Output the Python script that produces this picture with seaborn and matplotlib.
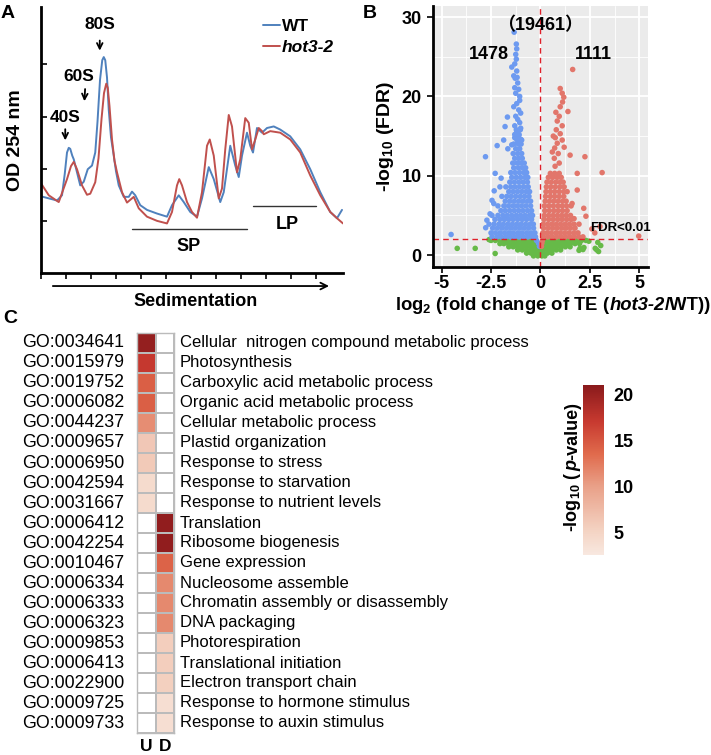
import numpy as np
import pandas as pd
import matplotlib
matplotlib.use("Agg")
import matplotlib.pyplot as plt
import seaborn as sns
from matplotlib.colors import LinearSegmentedColormap, ListedColormap
from matplotlib.lines import Line2D

# ---------------- data: panel A (polysome profile) ----------------
wt_x = [0.00, 0.64, 0.84, 0.95, 1.04, 1.11, 1.17, 1.25, 1.31, 1.57, 1.71, 1.87, 2.04, 2.17, 2.26, 2.36,
        2.45, 2.51, 2.57, 2.64, 2.71, 2.80, 2.91, 3.00, 3.11, 3.31, 3.51, 3.64, 3.77, 3.97, 4.24, 4.64,
        5.04, 5.24, 5.51, 5.71, 5.97, 6.24, 6.44, 6.71, 6.91, 7.17, 7.31, 7.57, 7.77, 7.91, 8.04, 8.24,
        8.37, 8.48, 8.64, 8.84, 9.04, 9.31, 9.57, 9.97, 10.37, 10.77, 11.17, 11.57, 11.84, 12.04]
wt_y = [1.47, 1.39, 1.49, 1.90, 2.31, 2.40, 2.38, 2.25, 2.18, 1.68, 1.75, 1.99, 2.06, 2.31, 2.90, 3.70,
        4.08, 4.14, 4.08, 3.75, 3.13, 2.60, 2.25, 1.95, 1.68, 1.46, 1.46, 1.56, 1.49, 1.30, 1.21, 1.14,
        1.08, 1.30, 1.49, 1.36, 1.17, 1.08, 1.43, 2.03, 1.80, 1.36, 1.55, 2.44, 2.06, 1.84, 2.25, 2.69,
        2.44, 2.31, 2.78, 2.69, 2.78, 2.81, 2.75, 2.62, 2.37, 1.99, 1.55, 1.17, 1.05, 1.21]
mut_x = [0.00, 0.31, 0.71, 1.04, 1.20, 1.31, 1.44, 1.64, 1.84, 1.97, 2.17, 2.30, 2.42, 2.52, 2.61, 2.67,
         2.74, 2.84, 2.94, 3.04, 3.24, 3.44, 3.71, 3.91, 4.24, 4.64, 5.04, 5.24, 5.44, 5.53, 5.64, 5.84,
         6.04, 6.24, 6.44, 6.64, 6.75, 6.91, 7.11, 7.24, 7.37, 7.51, 7.64, 7.84, 7.97, 8.17, 8.31, 8.44,
         8.57, 8.71, 8.84, 8.91, 9.17, 9.57, 9.97, 10.37, 10.77, 11.17, 11.57, 11.84, 12.08]
mut_y = [1.72, 1.49, 1.36, 1.80, 2.05, 2.13, 1.99, 1.68, 1.50, 1.52, 1.74, 2.20, 2.95, 3.45, 3.63, 3.55,
         3.20, 2.56, 2.15, 1.93, 1.55, 1.35, 1.46, 1.24, 1.08, 1.00, 0.95, 1.17, 1.68, 1.80, 1.68, 1.36,
         1.17, 1.06, 1.55, 2.44, 2.56, 2.25, 1.43, 1.62, 2.37, 3.03, 2.81, 1.93, 2.18, 2.97, 2.88, 2.37,
         2.56, 2.78, 2.72, 2.66, 2.72, 2.69, 2.56, 2.31, 1.87, 1.49, 1.17, 1.05, 0.95]
profile_names = ["WT", "hot3-2"]

# ---------------- data: panel B (volcano) ----------------
blue_rows = [
    (2.3, [-2.45, -2.2, -1.98, -1.75, -1.52, -1.3, -1.08, -0.86, -0.64, -0.42, -0.25]),
    (2.8, [-2.5, -2.28, -2.05, -1.82, -1.6, -1.38, -1.15, -0.93, -0.7, -0.48, -0.28]),
    (3.4, [-2.42, -2.18, -1.95, -1.72, -1.5, -1.27, -1.05, -0.82, -0.6, -0.35]),
    (3.9, [-2.6, -2.35, -2.1, -1.88, -1.65, -1.42, -1.2, -0.98, -0.75, -0.52, -0.36]),
    (4.5, [-2.3, -2.05, -1.82, -1.6, -1.38, -1.15, -0.92, -0.7, -0.45]),
    (5.0, [-2.45, -2.15, -1.9, -1.68, -1.45, -1.22, -1.0, -0.78, -0.55, -0.4]),
    (5.6, [-2.0, -1.78, -1.55, -1.32, -1.1, -0.88, -0.65, -0.45]),
    (6.2, [-2.15, -1.85, -1.62, -1.4, -1.18, -0.96, -0.74, -0.5]),
    (6.8, [-1.78, -1.55, -1.32, -1.1, -0.88, -0.66, -0.5]),
    (7.4, [-1.95, -1.7, -1.48, -1.25, -1.02, -0.8, -0.58]),
    (8.0, [-1.6, -1.38, -1.16, -0.94, -0.72, -0.55]),
    (8.6, [-1.75, -1.5, -1.28, -1.06, -0.84, -0.62]),
    (9.2, [-1.55, -1.32, -1.1, -0.88, -0.66]),
    (9.8, [-1.45, -1.22, -1.0, -0.78, -0.64]),
    (10.4, [-1.5, -1.28, -1.06, -0.84, -0.7]),
    (11.0, [-1.35, -1.12, -0.92, -0.75]),
    (11.6, [-1.4, -1.18, -0.98, -0.82]),
    (12.2, [-1.3, -1.1, -0.92]),
    (12.8, [-1.38, -1.15, -0.95]),
    (13.4, [-1.25, -1.05]),
    (14.0, [-1.35, -1.12, -0.98]),
    (14.6, [-1.2, -1.0]),
    (15.2, [-1.3, -1.08]),
    (15.8, [-1.22, -1.02]),
]
blue_extra = [(-1.33, 28.1), (-1.22, 26.6), (-1.2, 26.0), (-1.25, 25.3), (-1.22, 24.7), (-1.3, 24.1),
              (-1.45, 23.7), (-1.2, 23.2), (-1.35, 22.6), (-1.28, 22.3), (-1.18, 22.4), (-1.15, 21.7),
              (-1.3, 21.1), (-1.1, 20.9), (-1.25, 20.4), (-1.05, 20.0), (-1.05, 19.5), (-1.2, 19.1),
              (-1.35, 18.7), (-1.1, 18.3), (-1.0, 17.9), (-1.25, 17.5), (-1.67, 17.4), (-1.15, 17.1),
              (-1.05, 16.7), (-1.3, 16.3), (-1.79, 16.2), (-1.0, 16.0), (-1.2, 15.5), (-1.1, 15.1),
              (-1.3, 14.8), (-0.95, 14.5), (-1.15, 14.2), (-1.45, 13.9), (-2.19, 13.8), (-1.86, 14.5),
              (-1.65, 13.4), (-2.78, 12.4), (-2.29, 10.3), (-1.99, 9.7), (-2.34, 8.1), (-2.05, 8.6),
              (-2.36, 6.5), (-2.45, 6.9), (-2.55, 5.2), (-2.71, 4.4), (-2.77, 3.45), (-4.52, 2.6),
              (-0.2, 1.85), (-0.1, 1.5), (-0.05, 1.1)]
red_rows = [
    (2.3, [0.15, 0.37, 0.6, 0.82, 1.05, 1.27, 1.5, 1.72, 1.95, 2.15]),
    (2.8, [0.12, 0.33, 0.55, 0.78, 1.0, 1.22, 1.45, 1.68, 1.9]),
    (3.4, [0.16, 0.4, 0.62, 0.85, 1.08, 1.3, 1.52, 1.75]),
    (3.9, [0.14, 0.36, 0.58, 0.8, 1.02, 1.25, 1.47, 1.7, 1.95]),
    (4.5, [0.18, 0.42, 0.65, 0.88, 1.1, 1.33, 1.56]),
    (5.0, [0.2, 0.42, 0.64, 0.86, 1.08, 1.3, 1.52]),
    (5.6, [0.22, 0.45, 0.68, 0.9, 1.12, 1.35]),
    (6.2, [0.2, 0.42, 0.65, 0.88, 1.1, 1.32, 1.55]),
    (6.8, [0.24, 0.46, 0.68, 0.9, 1.12, 1.3]),
    (7.4, [0.26, 0.5, 0.72, 0.95, 1.18]),
    (8.0, [0.28, 0.5, 0.72, 0.95, 1.18, 1.35]),
    (8.6, [0.3, 0.52, 0.75, 0.98, 1.2]),
    (9.2, [0.33, 0.55, 0.78, 1.0, 1.15]),
    (9.8, [0.4, 0.62, 0.85, 1.05]),
    (10.3, [0.5, 0.72, 0.95]),
]
red_extra = [(0.74, 11.2), (0.95, 11.6), (0.7, 12.2), (0.9, 12.8), (0.6, 13.0), (1.2, 13.6), (0.72, 13.5),
             (0.85, 14.1), (1.1, 14.5), (0.75, 14.8), (0.65, 15.0), (1.0, 15.3), (0.8, 15.8), (1.1, 16.3),
             (0.85, 16.9), (0.95, 17.5), (0.78, 18.0), (1.39, 18.1), (1.0, 18.7), (1.12, 19.3),
             (1.18, 19.9), (1.1, 20.4), (1.0, 21.0), (1.63, 23.4), (1.5, 12.6), (2.25, 12.4),
             (3.12, 10.4), (1.86, 10.3), (1.86, 8.2), (2.19, 5.9), (2.3, 4.9), (1.6, 6.5), (1.7, 4.6),
             (3.01, 3.6), (2.6, 3.3), (2.75, 2.8), (4.97, 2.4), (0.1, 1.85), (0.07, 1.5), (0.05, 1.1)]
green_rows = [
    (1.85, [-2.5, -2.28, -2.05, -1.82, -1.6, -1.38, -1.15, -0.92, -0.7, -0.48, -0.32,
            0.3, 0.5, 0.72, 0.95, 1.18, 1.4, 1.62, 1.85, 2.08, 2.3]),
    (1.45, [-2.05, -1.85, -1.62, -1.4, -1.18, -0.96, -0.74, -0.52, -0.3,
            0.22, 0.42, 0.64, 0.86, 1.08, 1.3, 1.52, 1.75, 1.98]),
    (1.05, [-1.6, -1.38, -1.16, -0.94, -0.72, -0.5, -0.28, -0.15,
            0.18, 0.38, 0.6, 0.82, 1.04, 1.26, 1.5]),
    (0.65, [-1.15, -0.92, -0.7, -0.48, -0.26, -0.05, 0.15, 0.37, 0.58, 0.8, 1.02]),
    (0.25, [-0.7, -0.48, -0.26, -0.05, 0.15, 0.36, 0.58]),
    (-0.1, [-0.35, -0.13, 0.07, 0.22]),
]
green_extra = [(-4.21, 0.85), (-3.3, 0.85), (-2.29, 0.2), (2.9, 1.6), (3.05, 1.2), (2.77, 0.85),
               (2.94, 0.45), (2.85, 0.65), (2.0, 0.85), (2.15, 0.7), (1.95, 0.6), (2.2, 0.95),
               (2.45, 1.75), (-2.6, 1.95)]
volcano_colors = {"green": "#66BA48", "blue": "#6D9AF0", "red": "#E2766B"}
xtick_vals = [-5, -2.5, 0, 2.5, 5]
xtick_labels = ["-5", "-2.5", "0", "2.5", "5"]
ytick_vals = [0, 10, 20, 30]

# ---------------- data: panel C (GO heatmap) ----------------
go_ids = ["GO:0034641", "GO:0015979", "GO:0019752", "GO:0006082", "GO:0044237", "GO:0009657",
          "GO:0006950", "GO:0042594", "GO:0031667", "GO:0006412", "GO:0042254", "GO:0010467",
          "GO:0006334", "GO:0006333", "GO:0006323", "GO:0009853", "GO:0006413", "GO:0022900",
          "GO:0009725", "GO:0009733"]
go_terms = ["Cellular  nitrogen compound metabolic process", "Photosynthesis",
            "Carboxylic acid metabolic process", "Organic acid metabolic process",
            "Cellular metabolic process", "Plastid organization", "Response to stress",
            "Response to starvation", "Response to nutrient levels", "Translation",
            "Ribosome biogenesis", "Gene expression", "Nucleosome assemble",
            "Chromatin assembly or disassembly", "DNA packaging", "Photorespiration",
            "Translational initiation", "Electron transport chain", "Response to hormone stimulus",
            "Response to auxin stimulus"]
nan = np.nan
up_vals = [20.3, 17.2, 14.3, 14.3, 11.2, 6.2, 6.0, 4.2, 4.2] + [nan] * 11
down_vals = [nan] * 9 + [20.5, 20.5, 14.0, 11.5, 11.5, 11.5, 5.6, 5.6, 5.4, 3.8, 3.8]
hm_cols = ["U", "D"]
cbar_ticks = [5, 10, 15, 20]

# ---------------- style ----------------
sns.set_theme(style="white", rc={"text.color": "black", "axes.labelcolor": "black",
                                 "xtick.color": "black", "ytick.color": "black"})
plt.rcParams["font.family"] = ["Liberation Sans", "Noto Sans CJK SC", "DejaVu Sans"]
plt.rcParams["mathtext.fontset"] = "custom"
plt.rcParams["mathtext.rm"] = "Liberation Sans"
plt.rcParams["mathtext.bf"] = "Liberation Sans:bold"
plt.rcParams["mathtext.it"] = "Liberation Sans:italic"

W, H = 711, 755
fig = plt.figure(figsize=(W / 100, H / 100), dpi=100)
fig.patch.set_facecolor("white")


def fax(l, t, r, b):
    return fig.add_axes([l / W, 1 - b / H, (r - l) / W, (b - t) / H])


def rich(pieces, x_px, y_px, rotation=0, size=12, **common):
    """Place text pieces with different styles along one baseline, centred."""
    r = fig.canvas.get_renderer()
    arts = [fig.text(0, 0, t, fontsize=size, rotation=rotation, rotation_mode="anchor",
                     ha="left", va="baseline", **{**common, **st}) for t, st in pieces]
    lens = []
    for a in arts:
        e = a.get_window_extent(renderer=r)
        lens.append(e.height if rotation == 90 else e.width)
    pos = -sum(lens) / 2
    for a, L in zip(arts, lens):
        if rotation == 90:
            a.set_position((x_px / W, (H - y_px + pos) / H))
        else:
            a.set_position(((x_px + pos) / W, (H - y_px) / H))
        pos += L


axA = fax(41, 7, 343, 273)
axB = fax(432.7, 6, 648, 267)
axC = fax(137, 333, 174, 733)
cax = fax(583, 385, 604, 555)

# ---------------- panel A ----------------
c_wt, c_mut = "#4F81BD", "#C0504D"
dfA = pd.concat([pd.DataFrame({"x": wt_x, "y": wt_y, "line": profile_names[0]}),
                 pd.DataFrame({"x": mut_x, "y": mut_y, "line": profile_names[1]})])
sns.lineplot(data=dfA, x="x", y="y", hue="line", palette={profile_names[0]: c_wt, profile_names[1]: c_mut},
             sort=False, estimator=None, lw=1.4, ax=axA, legend=False)
axA.set_xlim(0, 12.08)
axA.set_ylim(0, 5.1)
axA.set_xticks(np.arange(0, 12))
axA.set_yticks([1, 2, 3, 4])
axA.set_xticklabels([])
axA.set_yticklabels([])
axA.set_xlabel("")
axA.set_ylabel("")
axA.tick_params(axis="x", direction="out", length=4, width=1.2, bottom=True)
axA.tick_params(axis="y", direction="in", length=4, width=1.2, left=True)
for s in ["top", "right"]:
    axA.spines[s].set_visible(False)
for s in ["left", "bottom"]:
    axA.spines[s].set_color("black")
    axA.spines[s].set_linewidth(2)

lab_kw = dict(fontsize=12.5, fontweight="bold", ha="center", va="center")
axA.text(2.37, 4.76, "80S", **lab_kw)
axA.text(1.53, 3.77, "60S", **lab_kw)
axA.text(0.97, 2.99, "40S", **lab_kw)
arr = dict(arrowstyle="->", lw=1.3, color="black", mutation_scale=10)
axA.annotate("", xy=(2.35, 4.21), xytext=(2.35, 4.51), arrowprops=arr)
axA.annotate("", xy=(1.73, 3.24), xytext=(1.77, 3.58), arrowprops=arr)
axA.annotate("", xy=(0.97, 2.49), xytext=(0.97, 2.81), arrowprops=arr)
axA.plot([3.65, 8.25], [0.84, 0.84], color="#333333", lw=1)
axA.plot([8.49, 11.01], [1.29, 1.29], color="#333333", lw=1)
axA.text(5.9, 0.5, "SP", fontsize=13, fontweight="bold", ha="center", va="center")
axA.text(9.85, 0.93, "LP", fontsize=13, fontweight="bold", ha="center", va="center")

h = [Line2D([], [], color=c_wt, lw=1.4), Line2D([], [], color=c_mut, lw=1.4)]
leg = axA.legend(h, profile_names, loc="upper left", bbox_to_anchor=(0.735, 0.955), frameon=False,
                 handlelength=1.0, handletextpad=0.1, labelspacing=0.35, borderpad=0, borderaxespad=0,
                 prop={"weight": "bold", "size": 12.5})
leg.get_texts()[1].set_fontstyle("italic")

axA.annotate("", xy=(0.963, -0.049), xytext=(0.03, -0.049), xycoords="axes fraction",
             textcoords="axes fraction", arrowprops=dict(arrowstyle="->", lw=1.3, color="black"),
             annotation_clip=False)
axA.text(0.513, -0.109, "Sedimentation", transform=axA.transAxes, fontsize=13, fontweight="bold",
         ha="center", va="center")
axA.text(-0.085, 0.5, "OD 254 nm", transform=axA.transAxes, fontsize=14, fontweight="bold",
         ha="center", va="center", rotation=90)

# ---------------- panel B ----------------
recs = []
for grp, rows, extra in [("green", green_rows, green_extra), ("blue", blue_rows, blue_extra),
                         ("red", red_rows, red_extra)]:
    for yv, xs in rows:
        for xv in xs:
            recs.append((xv, yv, grp))
    for xv, yv in extra:
        recs.append((xv, yv, grp))
dfB = pd.DataFrame(recs, columns=["x", "y", "grp"])
axB.set_facecolor("#EBEBEB")
axB.set_axisbelow(True)
sns.scatterplot(data=dfB, x="x", y="y", hue="grp", palette=volcano_colors, s=16, linewidth=0,
                legend=False, ax=axB)
axB.set_xlim(-5.45, 5.44)
axB.set_ylim(-1.5, 31.4)
axB.set_xticks(xtick_vals)
axB.set_xticklabels(xtick_labels)
axB.set_xticks([-3.75, -1.25, 1.25, 3.75], minor=True)
axB.set_yticks(ytick_vals)
axB.set_yticklabels([str(v) for v in ytick_vals])
axB.set_yticks([5, 15, 25], minor=True)
axB.grid(True, which="major", color="white", lw=1.3)
axB.grid(True, which="minor", color="white", lw=0.6)
axB.tick_params(which="minor", length=0)
axB.tick_params(which="major", direction="out", length=4, width=1.2, labelsize=13, bottom=True, left=True)
axB.tick_params(axis="x", which="major", pad=2)
axB.tick_params(axis="y", which="major", pad=4)
for t in axB.get_xticklabels() + axB.get_yticklabels():
    t.set_fontweight("bold")
for s in ["top", "right"]:
    axB.spines[s].set_visible(False)
for s in ["left", "bottom"]:
    axB.spines[s].set_color("black")
    axB.spines[s].set_linewidth(2)
axB.axvline(0, color="#E0202A", ls=(0, (4, 3)), lw=1)
axB.axhline(2, color="#E0202A", ls=(0, (4, 3)), lw=1)
axB.set_xlabel("")
axB.set_ylabel("-log$_{\\mathbf{10}}$ (FDR)", fontsize=14, fontweight="bold")
axB.yaxis.set_label_coords(-0.17, 0.5)
axB.text(0, 29.0, "（19461）", fontsize=13, fontweight="bold", ha="center", va="center")
axB.text(-2.6, 25.3, "1478", fontsize=13, fontweight="bold", ha="center", va="center")
axB.text(2.67, 25.3, "1111", fontsize=13, fontweight="bold", ha="center", va="center")
axB.text(2.51, 3.4, "FDR<0.01", fontsize=9.5, fontweight="bold", ha="left", va="center", clip_on=False)

# ---------------- panel C ----------------
hm = pd.DataFrame({hm_cols[0]: up_vals, hm_cols[1]: down_vals}, index=go_ids)
cmap = LinearSegmentedColormap.from_list(
    "gomap", [(0.0, "#F8E8E0"), (0.135, "#F4D4C4"), (0.405, "#E9A088"), (0.595, "#E06A4C"),
              (0.784, "#C83A30"), (1.0, "#8A1A1C")])
sns.heatmap(np.zeros(hm.shape), ax=axC, cmap=ListedColormap(["white"]), cbar=False, linewidths=1.2,
            linecolor="#BBBBBB", xticklabels=hm_cols, yticklabels=go_ids)
sns.heatmap(hm, ax=axC, mask=hm.isna(), cmap=cmap, vmin=2.5, vmax=21, linewidths=1.2, linecolor="#BBBBBB",
            cbar_ax=cax, cbar_kws={"ticks": cbar_ticks}, xticklabels=hm_cols, yticklabels=go_ids)
axC.set_xlabel("")
axC.set_ylabel("")
axC.tick_params(axis="y", length=0, pad=9, labelsize=12.8, rotation=0)
axC.tick_params(axis="x", length=0, pad=4, labelsize=12.5, rotation=0)
for t in axC.get_xticklabels():
    t.set_fontweight("bold")
for s in axC.spines.values():
    s.set_visible(True)
    s.set_color("#BBBBBB")
    s.set_linewidth(1)
for i, term in enumerate(go_terms):
    axC.text(2.32, i + 0.5, term, fontsize=12, ha="left", va="center", clip_on=False)

cbar = axC.collections[-1].colorbar
cbar.outline.set_visible(False)
cax.tick_params(length=0, labelsize=13, pad=7)
for t in cax.get_yticklabels():
    t.set_fontweight("bold")

# ---------------- multi-style labels & panel letters ----------------
rich([("log$_\\mathbf{2}$ (fold change of TE (", {}), ("hot3-2", {"fontstyle": "italic"}), ("/WT))", {})],
     553, 310, size=13.3, fontweight="bold")
rich([("-log$_\\mathbf{10}$ (", {}), ("p", {"fontstyle": "italic"}), ("-value)", {})],
     577, 467, rotation=90, size=13, fontweight="bold")

fig.text(8 / W, 1 - 14 / H, "A", fontsize=14, fontweight="bold", ha="center", va="center")
fig.text(370 / W, 1 - 13 / H, "B", fontsize=14, fontweight="bold", ha="center", va="center")
fig.text(10 / W, 1 - 318 / H, "C", fontsize=14, fontweight="bold", ha="center", va="center")

fig.savefig("out.png", dpi=100, facecolor="white")
